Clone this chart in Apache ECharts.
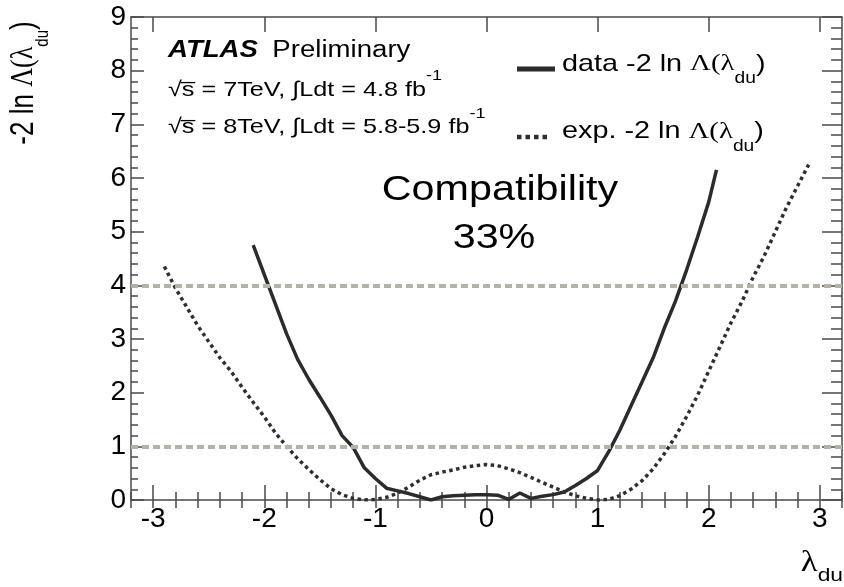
<!DOCTYPE html>
<html><head><meta charset="utf-8">
<script src="https://cdn.jsdelivr.net/npm/echarts@6/dist/echarts.min.js"></script>
<style>html,body{margin:0;padding:0;background:#fff}#c{width:844px;height:587px}</style>
</head><body><div id="c"></div>
<script>
// ---- data ----
const dataLambda = [-2.1,-2.0,-1.9,-1.8,-1.7,-1.6,-1.5,-1.4,-1.3,-1.2,-1.1,-1.0,-0.9,-0.8,-0.7,-0.6,-0.5,-0.4,-0.3,-0.2,-0.1,0.0,0.1,0.2,0.3,0.4,0.5,0.6,0.7,0.8,0.9,1.0,1.1,1.2,1.3,1.4,1.5,1.6,1.7,1.8,1.9,2.0,2.07];
const dataNLL    = [4.75,4.2,3.65,3.1,2.62,2.25,1.92,1.58,1.2,0.98,0.6,0.4,0.22,0.17,0.12,0.06,0.0,0.06,0.08,0.09,0.1,0.1,0.09,0.01,0.13,0.03,0.07,0.1,0.15,0.27,0.4,0.55,0.9,1.3,1.75,2.2,2.65,3.2,3.7,4.28,4.9,5.55,6.15];
const expLambda  = [-2.9,-2.8,-2.7,-2.6,-2.5,-2.4,-2.3,-2.2,-2.1,-2.0,-1.9,-1.8,-1.7,-1.6,-1.5,-1.4,-1.3,-1.2,-1.1,-1.0,-0.9,-0.8,-0.7,-0.6,-0.5,-0.4,-0.3,-0.2,-0.1,0.0,0.1,0.2,0.3,0.4,0.5,0.6,0.7,0.8,0.9,1.0,1.1,1.2,1.3,1.4,1.5,1.6,1.7,1.8,1.9,2.0,2.1,2.2,2.3,2.4,2.5,2.6,2.7,2.8,2.9];
const expNLL     = [4.35,3.95,3.6,3.25,2.95,2.65,2.4,2.1,1.82,1.55,1.25,1.0,0.77,0.57,0.38,0.21,0.1,0.03,0.0,0.01,0.05,0.13,0.24,0.37,0.47,0.52,0.56,0.61,0.64,0.66,0.64,0.58,0.51,0.42,0.33,0.24,0.15,0.08,0.03,0.0,0.01,0.08,0.2,0.36,0.58,0.86,1.18,1.55,1.95,2.4,2.85,3.3,3.7,4.15,4.55,5.0,5.45,5.85,6.25];
const xTickLabels = [-3,-2,-1,0,1,2,3];
const yTickLabels = [0,1,2,3,4,5,6,7,8,9];
const refLevels = [1,4];
const xRange = [-3.2, 3.2];
const yRange = [0, 9];

const FONT = 'Liberation Sans, Arial, Helvetica, sans-serif';
const SERIF = 'Liberation Serif, Times New Roman, serif';
const AX = '#4a4a4a';
const INK = '#000';
const SX = 1.2; // horizontal stretch of the reference picture

const pairs = (xs, ys) => xs.map((x, i) => [x, ys[i]]);

const majorX = (pos) => ({
  type: 'value', min: xRange[0], max: xRange[1], position: pos,
  axisLine: {show: true, onZero: false, lineStyle: {color: AX, width: 1.5}},
  axisTick: {show: true, inside: true, length: 15, customValues: xTickLabels, lineStyle: {color: AX, width: 1.5}},
  axisLabel: pos === 'bottom'
    ? {show: true, customValues: xTickLabels, fontSize: 28, fontFamily: FONT, color: INK, margin: 5}
    : {show: false},
  splitLine: {show: false}
});
const minorX = (pos) => ({
  type: 'value', min: xRange[0], max: xRange[1], interval: 0.2, position: pos,
  axisLine: {show: false},
  axisTick: {show: true, inside: true, length: 8, lineStyle: {color: AX, width: 1.5}},
  axisLabel: {show: false}, splitLine: {show: false}
});
const yAx = (pos, major, minor) => ({
  type: 'value', min: yRange[0], max: yRange[1], interval: 1, position: pos,
  axisLine: {show: true, onZero: false, lineStyle: {color: AX, width: 1.5}},
  axisTick: {show: true, inside: true, length: major, lineStyle: {color: AX, width: 1.5}},
  minorTick: {show: true, splitNumber: 5, length: minor, lineStyle: {color: AX, width: 1.5}},
  axisLabel: pos === 'left'
    ? {show: true, customValues: yTickLabels, fontSize: 28, fontFamily: FONT, color: INK, margin: 5}
    : {show: false},
  splitLine: {show: false}
});

const subRich = (main, sub) => ({
  a: {fontSize: main, fontFamily: FONT, color: INK, verticalAlign: 'top'},
  g: {fontSize: main, fontFamily: SERIF, color: INK, verticalAlign: 'top'},
  s: {fontSize: sub, fontFamily: FONT, color: INK, verticalAlign: 'bottom', padding: [Math.round(main * 0.8), 0, 0, 0]}
});
const supRich = {
  m: {fontSize: 21, fontFamily: FONT, color: INK, verticalAlign: 'bottom'},
  p: {fontSize: 15, fontFamily: FONT, color: INK, verticalAlign: 'top', padding: [0, 0, 17, 0]}
};

const txt = (x, y, text, rich, extra) => Object.assign({
  type: 'text', x, y, scaleX: SX, z: 10,
  style: {text, rich, align: 'left', textAlign: 'left', verticalAlign: 'top', textVerticalAlign: 'top'}
}, extra || {});

const chart = echarts.init(document.getElementById('c'), null, {renderer: 'canvas'});
chart.setOption({
  animation: false,
  backgroundColor: '#fff',
  grid: {left: 131, right: 2, top: 17, bottom: 87, containLabel: false},
  xAxis: [majorX('bottom'), minorX('bottom'), majorX('top'), minorX('top')],
  yAxis: [yAx('left', 13, 7), yAx('right', 20, 11)],
  series: [
    {
      type: 'line', name: 'ref', data: [], z: 1,
      markLine: {
        silent: true, symbol: 'none', animation: false,
        label: {show: false},
        lineStyle: {color: '#b3b1a8', width: 4, type: [7, 4]},
        data: refLevels.map(v => ({yAxis: v}))
      }
    },
    {
      type: 'line', name: 'data -2 ln Λ(λdu)', data: pairs(dataLambda, dataNLL), z: 3,
      symbol: 'none', showSymbol: false,
      lineStyle: {color: '#2b2b2b', width: 3.5}
    },
    {
      type: 'line', name: 'exp. -2 ln Λ(λdu)', data: pairs(expLambda, expNLL), z: 3,
      symbol: 'none', showSymbol: false,
      lineStyle: {color: '#2e2e2e', width: 3.5, type: [3.5, 3.5]}
    }
  ],
  graphic: [
    // ATLAS label
    {type: 'text', x: 168, y: 50.5, scaleX: SX, z: 10,
     style: {text: '{b|ATLAS}{n|Preliminary}', align: 'left', textAlign: 'left', verticalAlign: 'middle', textVerticalAlign: 'middle',
       rich: {b: {fontSize: 23, fontFamily: FONT, fontWeight: 'bold', fontStyle: 'italic', color: INK},
              n: {fontSize: 23, fontFamily: FONT, color: INK, padding: [0, 0, 0, 12]}}}},
    txt(168, 68.5, '{m|√s̅ = 7TeV, ∫Ldt = 4.8 fb}{p|-1}', supRich),
    txt(168, 106, '{m|√s̅ = 8TeV, ∫Ldt = 5.8-5.9 fb}{p|-1}', supRich),
    // legend
    {type: 'line', z: 10, shape: {x1: 517, y1: 69, x2: 555, y2: 69}, style: {stroke: '#2b2b2b', lineWidth: 5}},
    {type: 'line', z: 10, shape: {x1: 517, y1: 137, x2: 551, y2: 137}, style: {stroke: '#2e2e2e', lineWidth: 4.5, lineDash: [4.5, 4]}},
    txt(562, 52, '{a|data -2 ln }{g|Λ(λ}{s|du}{a|)}', subRich(24, 16)),
    txt(562, 119.5, '{a|exp. -2 ln }{g|Λ(λ}{s|du}{a|)}', subRich(24, 16)),
    // compatibility
    {type: 'text', x: 500, y: 190, scaleX: 1.18, z: 10,
     style: {text: 'Compatibility', fontSize: 35, fontFamily: FONT, fill: INK, align: 'center', textAlign: 'center', verticalAlign: 'middle', textVerticalAlign: 'middle'}},
    {type: 'text', x: 494, y: 238, scaleX: 1.18, z: 10,
     style: {text: '33%', fontSize: 35, fontFamily: FONT, fill: INK, align: 'center', textAlign: 'center', verticalAlign: 'middle', textVerticalAlign: 'middle'}},
    // axis titles
    {type: 'text', x: 843, y: 549, scaleX: SX, z: 10,
     style: {text: '{g|λ}{s|du}', align: 'right', textAlign: 'right', verticalAlign: 'top', textVerticalAlign: 'top',
       rich: {g: {fontSize: 29, fontFamily: SERIF, color: INK, verticalAlign: 'top'},
              s: {fontSize: 19, fontFamily: FONT, color: INK, verticalAlign: 'bottom', padding: [17, 0, 0, 0]}}}},
    {type: 'text', x: 30, y: 83, rotation: Math.PI / 2, scaleY: 1.25, z: 10,
     style: {text: '{a|-2 ln }{g|Λ(λ}{s|du}{a|)}', align: 'center', textAlign: 'center', verticalAlign: 'middle', textVerticalAlign: 'middle',
       rich: subRich(26, 15)}}
  ]
});
</script></body></html>
